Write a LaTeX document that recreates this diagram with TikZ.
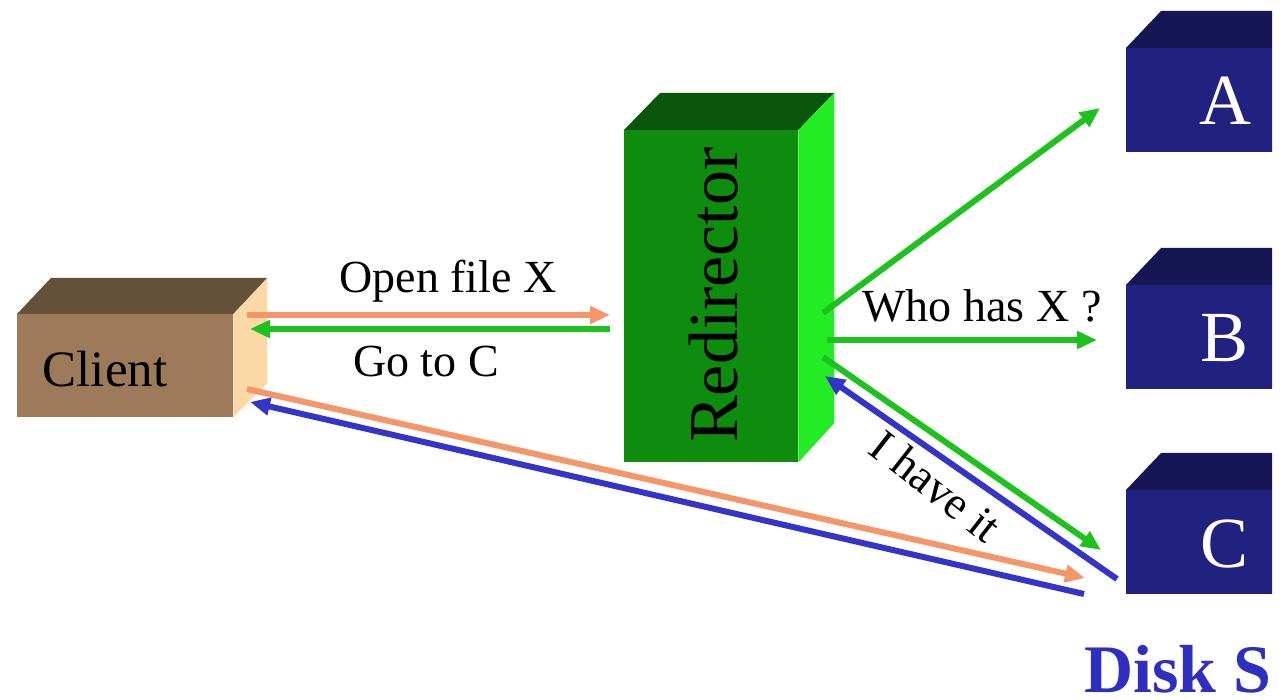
\documentclass[tikz,border=0pt]{standalone}
\usepackage{fontspec}
\setmainfont{Liberation Serif}
\usetikzlibrary{arrows.meta}

\definecolor{clientfront}{HTML}{9C7A5A}
\definecolor{clienttop}{HTML}{65503A}
\definecolor{clientside}{HTML}{FAD9A6}
\definecolor{redfront}{HTML}{0D8C0D}
\definecolor{redtop}{HTML}{0A560A}
\definecolor{redside}{HTML}{24EC24}
\definecolor{diskfront}{HTML}{21217F}
\definecolor{disktop}{HTML}{161654}
\definecolor{reqorange}{HTML}{F4956A}
\definecolor{msggreen}{HTML}{1EC21E}
\definecolor{ansblue}{HTML}{3434C8}
\definecolor{titleblue}{HTML}{2E2EC0}

\tikzset{
  face/.style={draw=none, inner sep=0pt, anchor=north west},
  msg/.style={font=\fontsize{46}{50}\selectfont, inner sep=0pt, anchor=base},
  disklabel/.style={font=\fontsize{72}{76}\selectfont, text=white, inner sep=0pt, anchor=base},
  arrowline/.style={line width=6pt, -{Triangle[length=20pt,width=17pt]}},
  req/.style={arrowline, draw=reqorange},
  reply/.style={arrowline, draw=msggreen},
  answer/.style={arrowline, draw=ansblue},
}

\begin{document}
\begin{tikzpicture}[x=1pt, y=-1pt]
\useasboundingbox (0,0) rectangle (1286,700);
\fill[white] (0,0) rectangle (1286,700);
\clip (0,0) rectangle (1272,700);

% Client box
\node[face, fill=clientfront, minimum width=216pt, minimum height=103pt] (client) at (17,314) {};
\fill[clienttop] (client.north west) -- ++(34,-36) -- ++(216,0) -- (client.north east) -- cycle;
\fill[clientside] (client.north east) -- ++(34,-36) -- ++(0,105) -- (client.south east) -- cycle;
\node[font=\fontsize{51}{55}\selectfont, inner sep=0pt, anchor=base] (clientlabel) at (105,387) {Client};

% Redirector box
\node[face, fill=redfront, minimum width=174pt, minimum height=332pt] (redir) at (624,130) {};
\fill[redtop] (redir.north west) -- ++(36,-37) -- ++(174,0) -- (redir.north east) -- cycle;
\fill[redside] (redir.north east) -- ++(36,-37) -- ++(0,330) -- (redir.south east) -- cycle;
\node[font=\fontsize{70}{74}\selectfont, inner sep=0pt, rotate=90] (redirlabel) at (714,295) {Redirector};

% Disk servers
\foreach \name/\top/\letter in {diskA/48/A, diskB/285/B, diskC/490/C}{
  \node[face, fill=diskfront, minimum width=200pt, minimum height=104pt] (\name) at (1126,\top) {};
  \fill[disktop] (\name.north west) -- ++(35,-37) -- ++(200,0) -- (\name.north east) -- cycle;
  \node[disklabel] (\name label) at (1225,\top+77) {\letter};
}
\node[font=\bfseries\fontsize{68}{72}\selectfont, text=titleblue, inner sep=0pt, anchor=base west] (title) at (1084,692) {Disk S};

% Connector end points on the boxes
\coordinate (cOpenOut) at (247,315);
\coordinate (cOpenIn)  at (250,329);
\coordinate (cLowOut)  at (247,389);
\coordinate (cLowIn)   at (250,402);
\coordinate (rOpenIn)  at (610,315);
\coordinate (rOpenOut) at (610,329);
\coordinate (rToA)     at (823,313);
\coordinate (rToB)     at (827,340);
\coordinate (rToC)     at (823,357);
\coordinate (rFromC)   at (825,376);
\coordinate (aIn)      at (1100,108);
\coordinate (bIn)      at (1097,340);
\coordinate (cIn)      at (1101,550);
\coordinate (cOut)     at (1117,579);
\coordinate (cDataIn)  at (1085,578);
\coordinate (cDataOut) at (1084,594);

% Messages
\draw[req]   (cOpenOut) -- (rOpenIn);
\draw[reply] (rOpenOut) -- (cOpenIn);
\draw[reply] (rToA) -- (aIn);
\draw[reply] (rToB) -- (bIn);
\draw[reply] (rToC) -- (cIn);
\draw[answer] (cOut) -- (rFromC);
\draw[req]   (cLowOut) -- (cDataIn);
\draw[answer] (cDataOut) -- (cLowIn);

% Message labels
\node[msg] (openlabel) at (448,293) {Open file X};
\node[msg] (gotolabel) at (426,377) {Go to C};
\node[msg] (wholabel)  at (982,322) {Who has X ?};
\node[msg, anchor=center, rotate=-38] (havelabel) at (936,486) {I have it};
\end{tikzpicture}
\end{document}
